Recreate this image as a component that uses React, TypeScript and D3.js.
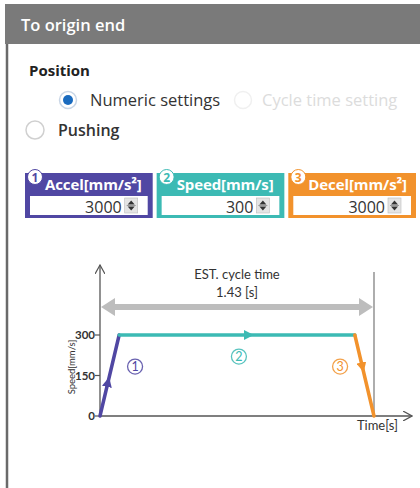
import React from 'react'
import * as d3 from 'd3'

// Setting boxes
const paramLabels = ['Accel[mm/s²]', 'Speed[mm/s]', 'Decel[mm/s²]']
const paramValues = [3000, 300, 3000]
const paramColors = ['#5047a3', '#3cbab4', '#f2922c']

// Speed profile (time in s, speed in mm/s)
const profileTimes = [0, 0.1, 1.33, 1.43]
const profileSpeeds = [0, 300, 300, 0]
const segmentLabels = ['1', '2', '3']
// where the numbered circles sit: [time, speed]
const labelTimes = [0.183, 0.725, 1.253]
const labelSpeeds = [183, 220, 183]
const yTicks = [0, 150, 300]
const cycleTime = 1.43

const W = 420
const H = 488

const App = () => {
    const x = d3.scaleLinear().domain([0, cycleTime]).range([100, 374])
    const y = d3.scaleLinear().domain([0, 300]).range([416, 335])

    const pts = profileTimes.map((t, i) => [x(t), y(profileSpeeds[i])] as [number, number])
    const segments = [0, 1, 2].map(i => [pts[i], pts[i + 1]])

    const boxX = d3.scaleBand<number>().domain([0, 1, 2]).range([25, 416]).paddingInner(0.03)

    const font = '"Open Sans", "Liberation Sans", sans-serif'
    const chartFont = 'Lato, "Open Sans", sans-serif'

    const arrowAt = [0.42, 0.55, 0.4]

    return (
        <svg width={W} height={H} style={{ position: 'absolute', left: 0, top: 0, background: '#fff' }}>
            <defs>
                <marker id="axisArrow" viewBox="0 0 10 10" refX="9" refY="5" markerWidth="10" markerHeight="10" orient="auto" markerUnits="userSpaceOnUse">
                    <path d="M0,0 L9,5 L0,10" fill="none" stroke="#555" strokeWidth={1.2} />
                </marker>
                {paramColors.map((c, i) => (
                    <marker key={i} id={`segArrow${i}`} viewBox="0 0 10 10" refX="5" refY="5" markerWidth="10" markerHeight="10" orient="auto" markerUnits="userSpaceOnUse">
                        <path d="M0,0 L10,5 L0,10 Z" fill={c} />
                    </marker>
                ))}
                {paramColors.map((c, i) => (
                    <clipPath key={i} id={`boxClip${i}`}>
                        <rect x={boxX(i)} y={172} width={boxX.bandwidth() - 2} height={50} />
                    </clipPath>
                ))}
            </defs>

            {/* panel */}
            <rect x={5} y={4} width={415} height={40} fill="#7a7a7a" />
            <line x1={7} x2={7} y1={44} y2={H} stroke="#6a6a6a" strokeWidth={2.5} />
            <text x={21} y={31} fill="#fff" fontFamily={font} fontSize={16.5} fontWeight={600}>To origin end</text>

            <text x={29} y={76} fill="#222" fontFamily={font} fontSize={15} fontWeight="bold">Position</text>

            <circle cx={68} cy={100} r={8.5} fill="#fff" stroke="#c9d6e6" strokeWidth={1.5} />
            <circle cx={68} cy={100} r={5} fill="#1a6bbf" />
            <text x={90} y={106} fill="#333" fontFamily={font} fontSize={16.5}>Numeric settings</text>

            <circle cx={243} cy={100} r={8.5} fill="#fff" stroke="#f0f0f0" strokeWidth={1.5} />
            <text x={262} y={106} fill="#dcdcdc" fontFamily={font} fontSize={16.5}>Cycle time setting</text>

            <circle cx={35} cy={130} r={9} fill="#fff" stroke="#d0d0d0" strokeWidth={1.5} />
            <text x={58} y={136} fill="#333" fontFamily={font} fontSize={16} fontWeight={600}>Pushing</text>

            {/* setting boxes */}
            {paramLabels.map((lab, i) => {
                const bx = boxX(i) as number
                const bw = boxX.bandwidth()
                const c = paramColors[i]
                return (
                    <g key={lab}>
                        <rect x={bx} y={173} width={bw} height={45} fill={c} />
                        <g clipPath={`url(#boxClip${i})`}>
                            <text x={bx + 20} y={190} fill="#fff" fontFamily={font} fontSize={15} fontWeight="bold" letterSpacing={-0.1}>{lab}</text>
                        </g>
                        <rect x={bx + 5} y={196} width={bw - 10} height={19} fill="#fff" />
                        <circle cx={bx + 10} cy={177} r={7.5} fill="#fff" stroke={c} strokeWidth={1} />
                        <text x={bx + 10} y={181.5} textAnchor="middle" fill={c} fontFamily={font} fontSize={12} fontWeight="bold">{segmentLabels[i]}</text>
                        <text x={bx + bw - 31} y={213} textAnchor="end" fill="#333" fontFamily={font} fontSize={16}>{paramValues[i]}</text>
                        <rect x={bx + bw - 28} y={198} width={13} height={15} fill="#e4e4e4" stroke="#bbb" strokeWidth={0.6} />
                        <path d={`M${bx + bw - 25},${204.5} L${bx + bw - 21.5},${200.5} L${bx + bw - 18},${204.5} Z`} fill="#333" />
                        <path d={`M${bx + bw - 25},${206.5} L${bx + bw - 21.5},${210.5} L${bx + bw - 18},${206.5} Z`} fill="#333" />
                        <line x1={bx + bw - 26} x2={bx + bw - 17} y1={205.5} y2={205.5} stroke="#666" strokeWidth={0.6} />
                    </g>
                )
            })}

            {/* chart */}
            <text x={x(cycleTime / 2)} y={279} textAnchor="middle" fill="#333" fontFamily={chartFont} fontSize={13}>EST. cycle time</text>
            <text x={x(cycleTime / 2)} y={297} textAnchor="middle" fill="#333" fontFamily={chartFont} fontSize={13}>{cycleTime.toFixed(2)} [s]</text>

            {/* cycle time double arrow */}
            <line x1={x(0) + 10} x2={x(cycleTime) - 10} y1={307} y2={307} stroke="#bdbdbd" strokeWidth={6} />
            <path d={`M${x(0) + 1},307 L${x(0) + 15},298 L${x(0) + 15},316 Z`} fill="#bdbdbd" />
            <path d={`M${x(cycleTime) - 1},307 L${x(cycleTime) - 15},298 L${x(cycleTime) - 15},316 Z`} fill="#bdbdbd" />

            {/* end vertical line */}
            <line x1={x(cycleTime)} x2={x(cycleTime)} y1={272} y2={y(0)} stroke="#777" strokeWidth={1.2} />

            {/* axes */}
            <line x1={x(0)} x2={x(0)} y1={y(0)} y2={265} stroke="#555" strokeWidth={1.3} markerEnd="url(#axisArrow)" />
            <line x1={x(0)} x2={412} y1={y(0)} y2={y(0)} stroke="#555" strokeWidth={1.3} markerEnd="url(#axisArrow)" />
            {yTicks.map(t => (
                <g key={t}>
                    <line x1={x(0) - 5} x2={x(0)} y1={y(t)} y2={y(t)} stroke="#555" strokeWidth={1.2} />
                    <text x={x(0) - 5} y={y(t) + 4} textAnchor="end" fill="#333" fontFamily={chartFont} fontSize={11.5} fontWeight="bold">{t}</text>
                </g>
            ))}
            <text transform={`translate(75, 367) rotate(-90)`} textAnchor="middle" fill="#333" fontFamily={chartFont} fontSize={9.5}>Speed[mm/s]</text>
            <text x={398} y={430} textAnchor="end" fill="#333" fontFamily={chartFont} fontSize={13}>Time[s]</text>

            {/* profile */}
            {segments.map(([a, b], i) => {
                const f = arrowAt[i]
                const mx = a[0] + (b[0] - a[0]) * f
                const my = a[1] + (b[1] - a[1]) * f
                const lx = x(labelTimes[i])
                const ly = y(labelSpeeds[i])
                return (
                    <g key={i}>
                        <line x1={a[0]} y1={a[1]} x2={b[0]} y2={b[1]} stroke={paramColors[i]} strokeWidth={3.5} strokeLinecap="round" />
                        <polyline points={`${a[0]},${a[1]} ${mx},${my} ${b[0]},${b[1]}`} fill="none" stroke="none" markerMid={`url(#segArrow${i})`} />
                        <circle cx={lx} cy={ly} r={7.5} fill="#fff" stroke={paramColors[i]} strokeWidth={1.3} opacity={0.85} />
                        <text x={lx} y={ly + 4.5} textAnchor="middle" fill={paramColors[i]} fontFamily={chartFont} fontSize={12.5}>{segmentLabels[i]}</text>
                    </g>
                )
            })}
        </svg>
    )
}

export default App
